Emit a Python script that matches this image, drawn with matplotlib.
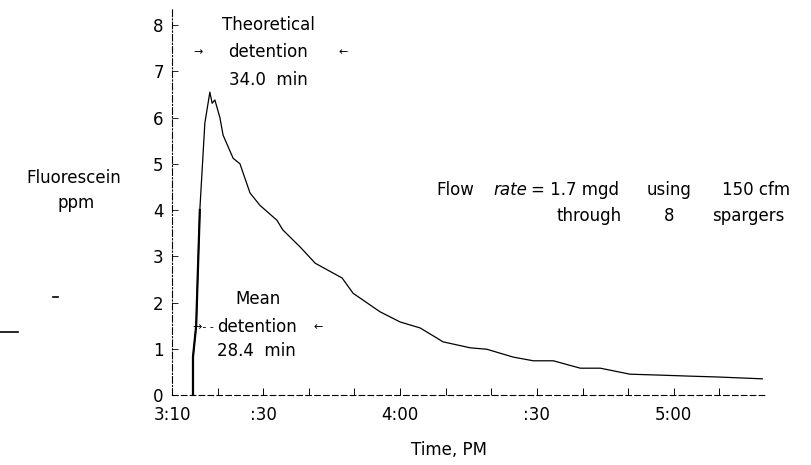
import matplotlib
matplotlib.use("Agg")
from matplotlib import pyplot as plt

# minutes after 3:10 PM and fluorescein concentration (ppm)
minutes = [4.6, 4.6, 5.3, 5.7, 6.1, 7.2, 8.3, 8.8, 9.4, 10.5, 11.2, 13.4, 14.9, 17.1,
           19.3, 23.0, 24.3, 28.1, 31.4, 37.3, 39.7, 45.6, 50.0, 54.4, 58.1, 59.4,
           65.4, 69.0, 74.8, 79.2, 83.6, 89.5, 93.9, 100.4, 107.0, 112.9, 119.5, 129.4]
ppm = [0.0, 0.82, 1.5, 2.77, 4.0, 5.88, 6.55, 6.31, 6.38, 6.0, 5.62, 5.12, 5.0, 4.37,
       4.1, 3.78, 3.57, 3.2, 2.85, 2.53, 2.2, 1.8, 1.58, 1.45, 1.23, 1.15,
       1.02, 0.99, 0.82, 0.74, 0.74, 0.58, 0.58, 0.45, 0.43, 0.41, 0.39, 0.35]

tick_minutes = [0, 20, 50, 80, 110]
tick_labels = ["3:10", ":30", "4:00", ":30", "5:00"]
minor_minutes = [10, 20, 30, 40, 50, 60, 70, 80, 90, 100, 110, 120]

theoretical_detention = 34.0
mean_detention = 28.4

plt.rcParams["font.family"] = "DejaVu Sans"
fig = plt.figure(figsize=(8.12, 4.65), dpi=100)
ax = fig.add_axes([172 / 812, 70 / 465, 593 / 812, 387 / 465])


def px(x, y):
    return x / 812, 1 - y / 465


ax.plot(minutes, ppm, color="black", lw=0.9)
ax.plot(minutes[:5], ppm[:5], color="black", lw=1.6)

ax.set_xlim(0, 130)
ax.set_ylim(0, 8.37)
for s in ["top", "right"]:
    ax.spines[s].set_visible(False)
ax.spines["left"].set_linestyle((0, (6, 2, 1, 2)))
ax.spines["left"].set_linewidth(0.8)
ax.spines["bottom"].set_linestyle((0, (5, 3)))
ax.spines["bottom"].set_linewidth(0.8)

ax.set_yticks(range(9))
ax.tick_params(axis="y", direction="in", length=4, width=0.6, labelsize=12, pad=6)
ax.set_xticks(tick_minutes)
ax.set_xticklabels(tick_labels)
ax.set_xticks(minor_minutes, minor=True)
ax.tick_params(axis="x", which="both", direction="in", length=5, width=0.7,
               labelsize=12, pad=8)

start = minutes[0]
# theoretical detention
ax.text(start, 7.42, "→", fontsize=8, ha="left", va="center")
ax.text(start + theoretical_detention, 7.42, "←", fontsize=8, ha="right", va="center")
fig.text(*px(268, 25), "Theoretical", fontsize=12, ha="center", va="center")
fig.text(*px(268, 52), "detention", fontsize=12, ha="center", va="center")
fig.text(*px(268, 80), "34.0  min", fontsize=12, ha="center", va="center")

# mean detention
ax.text(start, 1.47, "→- -", fontsize=8, ha="left", va="center")
ax.text(start + mean_detention, 1.47, "←", fontsize=8, ha="right", va="center")
fig.text(*px(258, 299), "Mean", fontsize=12, ha="center", va="center")
fig.text(*px(257, 327), "detention", fontsize=12, ha="center", va="center")
fig.text(*px(256, 351), "28.4  min", fontsize=12, ha="center", va="center")

# axis titles
fig.text(*px(74, 178), "Fluorescein", fontsize=12, ha="center", va="center")
fig.text(*px(76, 203), "ppm", fontsize=12, ha="center", va="center")
fig.text(*px(449, 450), "Time, PM", fontsize=12, ha="center", va="center")

# flow note
fig.text(*px(436, 190), "Flow", fontsize=12, ha="left", va="center")
fig.text(*px(493, 190), "rate", fontsize=12, ha="left", va="center", style="italic")
fig.text(*px(531, 190), "= 1.7 mgd", fontsize=12, ha="left", va="center")
fig.text(*px(647, 190), "using", fontsize=12, ha="left", va="center")
fig.text(*px(722, 190), "150 cfm", fontsize=12, ha="left", va="center")
fig.text(*px(557, 216), "through", fontsize=12, ha="left", va="center")
fig.text(*px(664, 216), "8", fontsize=12, ha="left", va="center")
fig.text(*px(712, 216), "spargers", fontsize=12, ha="left", va="center")

# stray marks on the scan
fig.add_artist(plt.Line2D([0, 18 / 812], [1 - 332 / 465] * 2, color="black", lw=1.2))
fig.add_artist(plt.Line2D([53 / 812, 58 / 812], [1 - 297 / 465] * 2, color="black", lw=1.2))

fig.savefig("out.png", dpi=100)
